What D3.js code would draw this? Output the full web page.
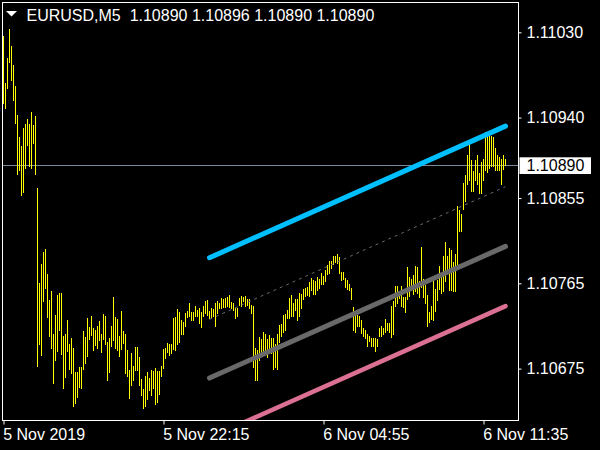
<!DOCTYPE html>
<html><head><meta charset="utf-8">
<script src="https://cdn.jsdelivr.net/npm/d3@7/dist/d3.min.js"></script>
<style>html,body{margin:0;padding:0;background:#000;}svg{display:block;}</style>
</head><body>
<svg id="c" width="600" height="450"></svg>
<script>
// ---- data ----
const symbolLabel = "EURUSD,M5";
const headerOHLC = [1.10890, 1.10896, 1.10890, 1.10890];
const bidPrice = 1.10890;
const priceTicks = [1.11030, 1.10940, 1.10855, 1.10765, 1.10675];
const timeTickIndex = [0, 80, 160, 240];
const timeLabels = ["5 Nov 2019", "5 Nov 22:15", "6 Nov 04:55", "6 Nov 11:35"];
const highs = [
1.11026,1.10976,1.11003,1.11033,1.11016,1.10996,1.10973,1.10943,1.10920,1.10910,
1.10929,1.10933,1.10938,1.10933,1.10946,1.10932,1.10942,1.10866,1.10765,1.10785,
1.10798,1.10801,1.10775,1.10747,1.10757,1.10712,1.10732,1.10753,1.10755,1.10755,
1.10709,1.10711,1.10726,1.10701,1.10707,1.10697,1.10671,1.10671,1.10677,1.10677,
1.10715,1.10708,1.10728,1.10719,1.10731,1.10718,1.10716,1.10720,1.10725,1.10712,
1.10733,1.10731,1.10703,1.10707,1.10720,1.10751,1.10729,1.10727,1.10709,1.10736,
1.10715,1.10711,1.10695,1.10674,1.10691,1.10678,1.10698,1.10698,1.10687,1.10664,
1.10653,1.10667,1.10671,1.10665,1.10673,1.10672,1.10676,1.10672,1.10672,1.10678,
1.10696,1.10697,1.10702,1.10701,1.10701,1.10728,1.10729,1.10738,1.10735,1.10726,
1.10724,1.10734,1.10736,1.10744,1.10735,1.10735,1.10741,1.10737,1.10739,1.10735,
1.10741,1.10746,1.10747,1.10736,1.10739,1.10738,1.10744,1.10746,1.10744,1.10750,
1.10749,1.10750,1.10751,1.10753,1.10745,1.10744,1.10739,1.10739,1.10750,1.10752,
1.10751,1.10752,1.10749,1.10748,1.10742,1.10741,1.10697,1.10695,1.10708,1.10706,
1.10714,1.10712,1.10706,1.10710,1.10707,1.10707,1.10701,1.10711,1.10721,1.10722,
1.10732,1.10733,1.10737,1.10750,1.10753,1.10744,1.10749,1.10749,1.10755,1.10754,
1.10759,1.10760,1.10761,1.10766,1.10771,1.10769,1.10768,1.10772,1.10770,1.10776,
1.10773,1.10779,1.10784,1.10789,1.10789,1.10794,1.10794,1.10796,1.10793,1.10777,
1.10777,1.10771,1.10769,1.10764,1.10760,1.10740,1.10733,1.10732,1.10730,1.10726,
1.10718,1.10716,1.10711,1.10709,1.10707,1.10707,1.10707,1.10706,1.10718,1.10720,
1.10718,1.10727,1.10723,1.10723,1.10741,1.10746,1.10762,1.10762,1.10757,1.10762,
1.10751,1.10751,1.10782,1.10772,1.10770,1.10774,1.10783,1.10782,1.10768,1.10803,
1.10770,1.10763,1.10753,1.10735,1.10741,1.10769,1.10759,1.10769,1.10783,1.10773,
1.10794,1.10809,1.10794,1.10802,1.10800,1.10788,1.10796,1.10847,1.10842,1.10838,
1.10871,1.10879,1.10901,1.10915,1.10895,1.10884,1.10895,1.10901,1.10881,1.10893,
1.10896,1.10925,1.10921,1.10925,1.10921,1.10920,1.10908,1.10901,1.10898,1.10896,
1.10901,1.10896];
const lows = [
1.10955,1.10950,1.10971,1.10999,1.10980,1.10959,1.10934,1.10880,1.10885,1.10858,
1.10861,1.10887,1.10911,1.10889,1.10887,1.10913,1.10880,1.10678,1.10701,1.10689,
1.10746,1.10760,1.10729,1.10709,1.10697,1.10660,1.10684,1.10694,1.10716,1.10690,
1.10654,1.10666,1.10694,1.10675,1.10670,1.10636,1.10639,1.10645,1.10656,1.10654,
1.10675,1.10681,1.10688,1.10706,1.10710,1.10695,1.10700,1.10697,1.10705,1.10693,
1.10706,1.10701,1.10663,1.10671,1.10699,1.10705,1.10697,1.10695,1.10688,1.10696,
1.10702,1.10670,1.10667,1.10644,1.10658,1.10663,1.10673,1.10674,1.10658,1.10647,
1.10633,1.10635,1.10643,1.10652,1.10647,1.10655,1.10638,1.10640,1.10648,1.10667,
1.10676,1.10686,1.10693,1.10689,1.10691,1.10696,1.10695,1.10701,1.10703,1.10711,
1.10712,1.10720,1.10729,1.10730,1.10726,1.10726,1.10731,1.10730,1.10723,1.10719,
1.10730,1.10734,1.10732,1.10728,1.10729,1.10730,1.10720,1.10734,1.10739,1.10739,
1.10740,1.10740,1.10741,1.10740,1.10739,1.10737,1.10728,1.10731,1.10742,1.10741,
1.10746,1.10741,1.10742,1.10739,1.10734,1.10677,1.10663,1.10663,1.10684,1.10690,
1.10692,1.10693,1.10687,1.10696,1.10691,1.10675,1.10677,1.10675,1.10703,1.10709,
1.10714,1.10716,1.10728,1.10728,1.10731,1.10730,1.10737,1.10726,1.10731,1.10739,
1.10748,1.10752,1.10753,1.10752,1.10758,1.10754,1.10754,1.10758,1.10760,1.10764,
1.10764,1.10767,1.10775,1.10776,1.10781,1.10785,1.10788,1.10786,1.10776,1.10769,
1.10770,1.10761,1.10759,1.10758,1.10748,1.10716,1.10714,1.10720,1.10720,1.10713,
1.10709,1.10707,1.10699,1.10704,1.10699,1.10699,1.10694,1.10699,1.10709,1.10709,
1.10712,1.10714,1.10716,1.10714,1.10708,1.10711,1.10741,1.10744,1.10750,1.10741,
1.10740,1.10735,1.10749,1.10752,1.10758,1.10754,1.10757,1.10755,1.10751,1.10761,
1.10751,1.10744,1.10720,1.10724,1.10727,1.10726,1.10736,1.10747,1.10759,1.10755,
1.10757,1.10767,1.10776,1.10758,1.10758,1.10757,1.10757,1.10783,1.10820,1.10820,
1.10844,1.10852,1.10870,1.10874,1.10862,1.10862,1.10874,1.10870,1.10860,1.10860,
1.10874,1.10885,1.10883,1.10887,1.10889,1.10889,1.10885,1.10885,1.10885,1.10870,
1.10886,1.10890];
// channel (bar index start/end, price start/end)
const channelIndex = [103, 251];
const channelUpper2 = [1.10792, 1.10931];
const channelUpper1 = [1.10727, 1.10867];
const channelMiddle = [1.10665, 1.10804];
const channelLower1 = [1.10602, 1.10741];

// ---- drawing ----
const svg = d3.select("#c");
const FONT = "'Liberation Sans', Arial, sans-serif";
svg.append("rect").attr("width",600).attr("height",450).attr("fill","#000");

const frame = {l:2.5, t:2.5, r:518.5, b:420.5};
const x = d3.scaleLinear().domain([0, 251]).range([3.5, 505.5]);
const y = d3.scaleLinear().domain([1.10620, 1.11062]).range([420.7, 2]);

svg.append("clipPath").attr("id","pc").append("rect")
  .attr("x",frame.l+0.5).attr("y",frame.t+0.5)
  .attr("width",frame.r-frame.l-1).attr("height",frame.b-frame.t-1);
const plot = svg.append("g").attr("clip-path","url(#pc)");

// bid line
const by = Math.round(y(bidPrice)) + 0.5;
plot.append("line").attr("x1",frame.l).attr("x2",frame.r).attr("y1",by).attr("y2",by)
  .attr("stroke","#778899").attr("stroke-width",1);

// bars
const bars = highs.map((h,i)=>({i, h, l: lows[i]}));
plot.append("g").attr("shape-rendering","crispEdges").selectAll("line").data(bars).join("line")
  .attr("x1",d=>x(d.i)).attr("x2",d=>x(d.i))
  .attr("y1",d=>y(d.h)).attr("y2",d=>y(d.l)+1)
  .attr("stroke","#ffff00").attr("stroke-width",1);

// channel lines
function chan(vals, color, w, dash){
  const ln = plot.append("line")
    .attr("x1",x(channelIndex[0])).attr("x2",x(channelIndex[1]))
    .attr("y1",y(vals[0])).attr("y2",y(vals[1]))
    .attr("stroke",color).attr("stroke-width",w);
  if(dash) ln.attr("stroke-dasharray",dash);
  else ln.attr("stroke-linecap","round");
}
chan(channelUpper1, "#696969", 1, "3,4");
chan(channelUpper2, "#00bfff", 5);
chan(channelMiddle, "#696969", 5);
chan(channelLower1, "#db7093", 4.5);

// frame
svg.append("rect").attr("x",frame.l).attr("y",frame.t)
  .attr("width",frame.r-frame.l).attr("height",frame.b-frame.t)
  .attr("fill","none").attr("stroke","#fff").attr("stroke-width",1)
  .attr("shape-rendering","crispEdges");

// y axis
const ya = svg.append("g").attr("transform",`translate(${frame.r},0)`)
  .call(d3.axisRight(y).tickValues(priceTicks).tickFormat(d3.format(".5f")).tickSize(3).tickPadding(5));
ya.select(".domain").remove();
ya.selectAll("line").attr("stroke","#fff");
ya.selectAll("text").attr("fill","#fff").style("font-family",FONT).style("font-size","16px");

// x axis
const xa = svg.append("g").attr("transform",`translate(0,${frame.b})`)
  .call(d3.axisBottom(x).tickValues(timeTickIndex).tickFormat((d,i)=>timeLabels[i]).tickSize(4));
xa.select(".domain").remove();
xa.selectAll("line").attr("stroke","#fff");
xa.selectAll("text").attr("fill","#fff").attr("text-anchor","start")
  .attr("x",-0.8).attr("y",19.5).attr("dy",0)
  .style("font-family",FONT).style("font-size","16px");

// bid price label
const bl = svg.append("g");
bl.append("rect").attr("x",519.5).attr("y",by-8.2).attr("width",71.5).attr("height",16.7).attr("fill","#fff");
bl.append("text").attr("x",526.5).attr("y",by).attr("dy","0.35em").attr("fill","#000")
  .style("font-family",FONT).style("font-size","16px").text(d3.format(".5f")(bidPrice));

// header
svg.append("path").attr("d","M6,11 L17,11 L11.5,16.5 Z").attr("fill","#fff");
svg.append("text").attr("x",26.5).attr("y",20.7).attr("fill","#fff")
  .style("font-family",FONT).style("font-size","16px")
  .attr("xml:space","preserve").style("white-space","pre")
  .text(symbolLabel + "  " + headerOHLC.map(d3.format(".5f")).join(" "));
</script>
</body></html>
